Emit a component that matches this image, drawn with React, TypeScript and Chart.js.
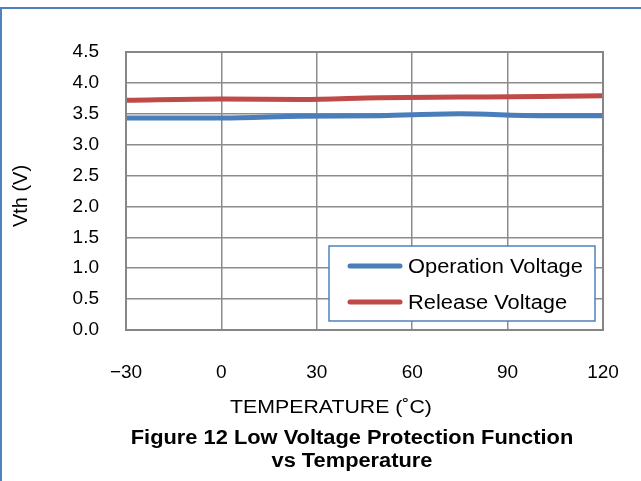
import React, { useEffect, useRef } from "react";
import { Chart, registerables } from "chart.js";

Chart.register(...registerables);

const temperatures = [-30, 0, 25, 50, 75, 100, 120];
const operationVoltage = [3.43, 3.43, 3.46, 3.47, 3.5, 3.47, 3.47];
const releaseVoltage = [3.72, 3.74, 3.73, 3.76, 3.77, 3.78, 3.79];
const seriesNames = ["Operation Voltage", "Release Voltage"];
const seriesColors = ["#4A7EBB", "#BE4B48"];
const xTicks = [-30, 0, 30, 60, 90, 120];
const yMin = 0;
const yMax = 4.5;
const yStep = 0.5;
const xTitle = "TEMPERATURE (˚C)";
const yTitle = "Vth (V)";
const titleLines = ["Figure 12 Low Voltage Protection Function", "vs Temperature"];

const FONT = "'Liberation Sans', Arial, sans-serif";
const STRETCH = 1.12;

function stretchedText(ctx: CanvasRenderingContext2D, text: string, x: number, y: number, align: "left" | "center") {
  ctx.save();
  ctx.translate(x, y);
  ctx.scale(STRETCH, 1);
  ctx.textAlign = align;
  ctx.fillText(text, 0, 0);
  ctx.restore();
}

const overlayPlugin = {
  id: "overlay",
  afterDraw(chart: any) {
    const ctx = chart.ctx as CanvasRenderingContext2D;
    const area = chart.chartArea;
    ctx.save();
    // plot border
    ctx.strokeStyle = "#868686";
    ctx.lineWidth = 2;
    ctx.strokeRect(area.left, area.top, area.right - area.left, area.bottom - area.top);

    // axis titles
    ctx.fillStyle = "#000";
    ctx.textBaseline = "middle";
    ctx.font = `19px ${FONT}`;
    stretchedText(ctx, xTitle, 331, 408, "center");
    ctx.save();
    ctx.translate(21, 196);
    ctx.rotate(-Math.PI / 2);
    ctx.font = `20px ${FONT}`;
    ctx.textAlign = "center";
    ctx.fillText(yTitle, 0, 0);
    ctx.restore();

    // figure title
    ctx.font = `bold 19.5px ${FONT}`;
    stretchedText(ctx, titleLines[0], 352, 439, "center");
    stretchedText(ctx, titleLines[1], 352, 462, "center");

    // legend
    const lx = 329, ly = 246, lw = 266, lh = 75;
    ctx.fillStyle = "#fff";
    ctx.fillRect(lx, ly, lw, lh);
    ctx.strokeStyle = "#4F81BD";
    ctx.lineWidth = 1.5;
    ctx.strokeRect(lx, ly, lw, lh);
    const rows = [266, 302];
    ctx.font = `19.5px ${FONT}`;
    seriesNames.forEach((name, i) => {
      ctx.strokeStyle = seriesColors[i];
      ctx.lineWidth = 5;
      ctx.lineCap = "round";
      ctx.beginPath();
      ctx.moveTo(350, rows[i]);
      ctx.lineTo(400, rows[i]);
      ctx.stroke();
      ctx.fillStyle = "#000";
      stretchedText(ctx, name, 408, rows[i] + 2, "left");
    });
    ctx.restore();
  },
};

export default function App() {
  const ref = useRef<HTMLCanvasElement | null>(null);
  useEffect(() => {
    if (!ref.current) return;
    const chart = new Chart(ref.current, {
      type: "line",
      data: {
        datasets: [
          {
            label: seriesNames[0],
            data: temperatures.map((t, i) => ({ x: t, y: operationVoltage[i] })),
            borderColor: seriesColors[0],
            borderWidth: 5,
            pointRadius: 0,
            cubicInterpolationMode: "monotone",
          },
          {
            label: seriesNames[1],
            data: temperatures.map((t, i) => ({ x: t, y: releaseVoltage[i] })),
            borderColor: seriesColors[1],
            borderWidth: 5,
            pointRadius: 0,
            cubicInterpolationMode: "monotone",
          },
        ],
      },
      options: {
        animation: false,
        responsive: false,
        maintainAspectRatio: false,
        layout: { padding: { left: 0, top: 52, right: 38, bottom: 0 } },
        plugins: { legend: { display: false }, tooltip: { enabled: false } },
        scales: {
          x: {
            type: "linear",
            min: xTicks[0],
            max: xTicks[xTicks.length - 1],
            afterBuildTicks: (axis: any) => {
              axis.ticks = xTicks.map((v) => ({ value: v }));
            },
            afterFit: (axis: any) => {
              axis.height = 151;
              axis.paddingLeft = 0;
              axis.paddingRight = 0;
            },
            grid: { color: "#8c8c8c", lineWidth: 1.5, drawTicks: false },
            border: { display: false },
            ticks: {
              padding: 31,
              color: "#000",
              font: { family: FONT, size: 19 },
              maxRotation: 0,
              callback: (v: any) => (Number(v) < 0 ? "\u2212" + Math.abs(Number(v)) : String(v)),
            },
          },
          y: {
            min: yMin,
            max: yMax,
            afterFit: (axis: any) => {
              axis.width = 126;
              axis.paddingTop = 0;
              axis.paddingBottom = 0;
            },
            grid: { color: "#8c8c8c", lineWidth: 1.5, drawTicks: false },
            border: { display: false },
            ticks: {
              stepSize: yStep,
              padding: 27,
              color: "#000",
              font: { family: FONT, size: 19 },
              callback: (v: any) => Number(v).toFixed(1),
            },
          },
        },
      },
      plugins: [overlayPlugin],
    });
    return () => chart.destroy();
  }, []);

  return (
    <div style={{ position: "fixed", left: 0, top: 0, width: 641, height: 481, background: "#fff", overflow: "hidden" }}>
      <div
        style={{
          position: "absolute",
          left: 0,
          top: 7,
          width: 700,
          height: 600,
          borderTop: "2px solid #4F81BD",
          borderLeft: "2px solid #4F81BD",
          boxSizing: "border-box",
        }}
      />
      <canvas ref={ref} width={641} height={481} style={{ position: "absolute", left: 0, top: 0 }} />
    </div>
  );
}
